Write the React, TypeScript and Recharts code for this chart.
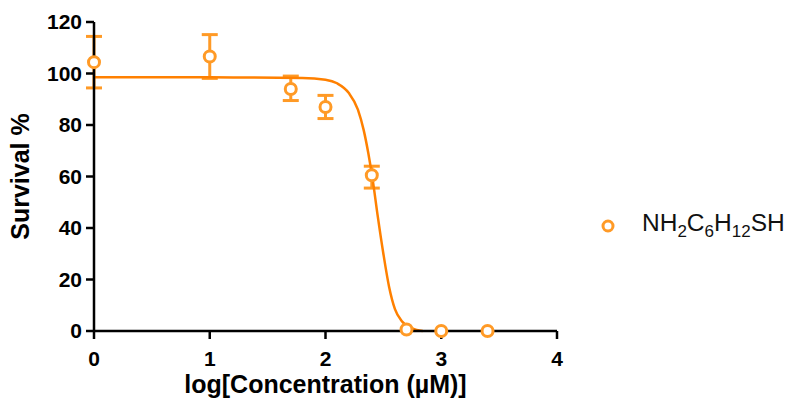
import { ComposedChart, ErrorBar, Legend, Line, Scatter, XAxis, YAxis } from "recharts";

// measured points (log concentration vs survival %)
const logConc = [0, 1, 1.7, 2.0, 2.4, 2.7, 3.0, 3.4];
const survival = [104.4, 106.6, 94, 87, 60.5, 0.6, 0, 0];
const errDown = [10, 8.5, 4.5, 4.5, 5, null, null, null];
const errUp = [10, 8.5, 5, 4.5, 3.5, null, null, null];

// fitted curve
const fitX = [0, 1, 1.8, 2.0, 2.1, 2.2, 2.28, 2.33, 2.37, 2.41, 2.45, 2.5, 2.55, 2.6, 2.66, 2.75, 2.84];
const fitY = [98.5, 98.5, 98.3, 97.6, 96.2, 92.5, 86, 78, 69, 58, 45, 30, 17, 8.5, 3.8, 1, 0];

const xTicks = [0, 1, 2, 3, 4];
const yTicks = [0, 20, 40, 60, 80, 100, 120];

const POINT = "#ff9a26";
const CURVE = "#ff8000";
const FONT = "Arial, 'Liberation Sans', sans-serif";

const points = logConc.map((x, i) => ({
  x,
  y: survival[i],
  err: errDown[i] == null ? null : [errDown[i], errUp[i]],
}));
const fit = fitX.map((x, i) => ({ x, y: fitY[i] }));

const tickStyle = { fontFamily: FONT, fontSize: 21, fontWeight: 700, fill: "#000" };
const titleStyle = { fontFamily: FONT, fontSize: 25, fontWeight: 700, fill: "#000" };

function Ring(props: any) {
  return <circle cx={props.cx} cy={props.cy} r={5.5} fill="#fff" stroke={POINT} strokeWidth={3} />;
}

function LegendBox() {
  const sub = { fontSize: 17, verticalAlign: "-6px" };
  return (
    <div style={{ display: "flex", alignItems: "center", fontFamily: FONT, fontSize: 24.5, color: "#111" }}>
      <svg width={20} height={20} style={{ marginRight: 24 }}>
        <circle cx={10} cy={10} r={5} fill="#fff" stroke={POINT} strokeWidth={3} />
      </svg>
      <span>
        NH<span style={sub}>2</span>C<span style={sub}>6</span>H<span style={sub}>12</span>SH
      </span>
    </div>
  );
}

export default function App() {
  return (
    <div style={{ position: "absolute", left: 0, top: 0, background: "#fff" }}>
      <ComposedChart width={791} height={406} margin={{ top: 22, right: 234, bottom: 14, left: 34 }}>
        <XAxis
          dataKey="x"
          type="number"
          domain={[0, 4]}
          ticks={xTicks}
          stroke="#000"
          strokeWidth={2.5}
          tickSize={8}
          tickMargin={12}
          tick={tickStyle}
          height={61}
          label={{
            value: "log[Concentration (µM)]",
            position: "insideBottom",
            offset: -1,
            style: titleStyle,
          }}
        />
        <YAxis
          type="number"
          domain={[0, 120]}
          ticks={yTicks}
          stroke="#000"
          strokeWidth={2.5}
          tickSize={8}
          tickMargin={4}
          tick={tickStyle}
          width={60}
          label={{
            value: "Survival %",
            angle: -90,
            position: "insideLeft",
            offset: 0,
            dx: -14,
            style: { ...titleStyle, textAnchor: "middle" },
          }}
        />
        <Legend
          layout="horizontal"
          verticalAlign="middle"
          align="center"
          content={() => <LegendBox />}
          wrapperStyle={{ position: "absolute", left: 598, top: 209, width: "auto" }}
        />
        <Scatter data={points} dataKey="y" shape={<Ring />} isAnimationActive={false}>
          <ErrorBar dataKey="err" direction="y" width={8} stroke={POINT} strokeWidth={3} />
        </Scatter>
        <Line
          data={fit}
          dataKey="y"
          type="monotone"
          stroke={CURVE}
          strokeWidth={2.5}
          dot={false}
          activeDot={false}
          isAnimationActive={false}
        />
      </ComposedChart>
    </div>
  );
}
